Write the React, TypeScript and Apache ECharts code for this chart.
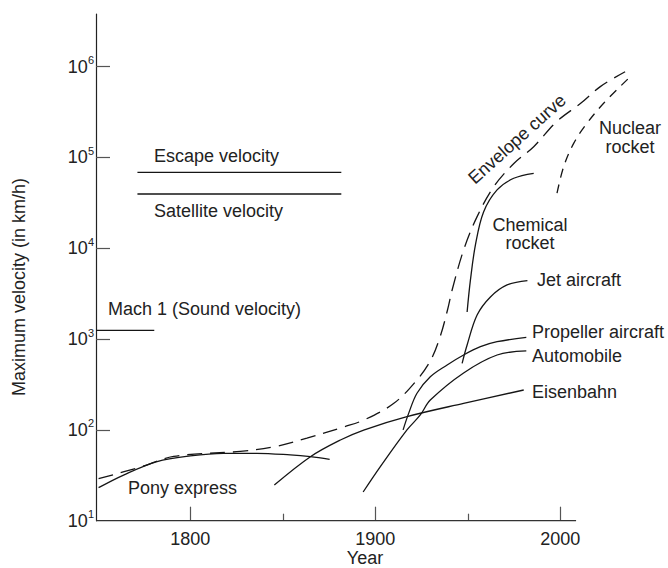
import React, { useEffect, useRef } from 'react';
import * as echarts from 'echarts';

const FONT = '"Liberation Sans", Arial, Helvetica, sans-serif';
const INK = '#151515';
const TEXT = '#222';

// Axis ticks
const xTickMajor = [1800, 1900, 2000];
const xTickMinor = [1850, 1950];
const yTickExponents = [1, 2, 3, 4, 5, 6];
// Drawn extent of the time axis line (years) at the 10 km/h baseline
const xAxisLineYears = [1749, 2008.5];
const xAxisLineKmh = [10, 10];

// Reference velocities (km/h)
const escapeYears = [1771.4, 1881.6];
const escapeKmh = [68700, 68700];
const satelliteYears = [1771.4, 1881.6];
const satelliteKmh = [39600, 39600];
const machYears = [1749, 1780.5];
const machKmh = [1250, 1250];

// Curves (year, km/h)
const envelopeYears = [1750.4, 1773, 1791, 1827, 1845, 1863, 1883, 1894, 1910, 1922.5, 1930, 1935, 1939, 1941.5, 1947.7, 1955, 1964, 1975, 1985.6, 1998, 2011, 2021.6, 2035];
const envelopeKmh = [29, 39, 51, 58, 65, 81, 108, 129, 196, 355, 590, 1060, 2090, 3475, 9570, 22300, 47600, 86300, 131500, 248000, 395000, 603000, 880000];

const ponyYears = [1750.4, 1763.9, 1782, 1800, 1817.8, 1836, 1854, 1864.9, 1875.3];
const ponyKmh = [23.1, 31.8, 44.7, 51.7, 55.2, 55.2, 53, 50.7, 47.4];

const railYears = [1845.4, 1864.9, 1881.1, 1893.7, 1917.1, 1947.7, 1980.2];
const railKmh = [24.7, 50.7, 77.4, 99.7, 140, 196, 275];

const autoYears = [1893.4, 1902.7, 1917.1, 1924.3, 1929.7, 1947.7, 1965.8, 1981.6];
const autoKmh = [20.7, 39.4, 100, 146, 213, 424, 668, 740];

const propYears = [1915, 1918, 1922.5, 1929.7, 1938.8, 1947.7, 1956.8, 1965.8, 1981.6];
const propKmh = [100, 152, 253, 385, 519, 668, 824, 935, 1047];

const jetYears = [1946.9, 1949.6, 1955, 1962.2, 1971.2, 1982.2];
const jetKmh = [541, 861, 1840, 2910, 3945, 4415];

const chemYears = [1949.6, 1951.4, 1954.1, 1958.5, 1965.8, 1974.8, 1985.6];
const chemKmh = [1990, 4480, 10900, 25100, 43900, 59000, 67000];

const nuclearYears = [1998.2, 2001.8, 2007.2, 2014.4, 2023.4, 2036.9];
const nuclearKmh = [40400, 79300, 143000, 238000, 395000, 745000];

const toPairs = (years: number[], vals: number[]) => years.map((y, i) => [y, Math.log10(vals[i])]);

const line = (name: string, years: number[], vals: number[], opts: any = {}) => ({
  type: 'line',
  name,
  data: toPairs(years, vals),
  symbol: 'none',
  showSymbol: false,
  clip: false,
  silent: true,
  smooth: opts.smooth ?? 0.35,
  lineStyle: { color: opts.color ?? INK, width: opts.width ?? 1.3, type: opts.dash ?? 'solid', cap: 'butt' },
  z: 3,
});

const txt = (text: string, x: number, y: number, align = 'left', extra: any = {}) => ({
  type: 'text',
  x,
  y,
  silent: true,
  ...extra,
  style: {
    text,
    fill: TEXT,
    font: `18px ${FONT}`,
    fontSize: 18,
    fontFamily: FONT,
    align,
    textAlign: align,
    verticalAlign: 'middle',
    textVerticalAlign: 'middle',
    lineHeight: 18.5,
  },
});

export default function App() {
  const ref = useRef<HTMLDivElement>(null);

  useEffect(() => {
    document.body.style.margin = '0';
    if (!ref.current) return;
    const chart = echarts.init(ref.current, null, { renderer: 'svg' });
    const option: any = {
      animation: false,
      backgroundColor: '#ffffff',
      grid: { left: 96, top: 14, right: 33.65, bottom: 47.3, containLabel: false },
      xAxis: [
        {
          type: 'value',
          min: 1749,
          max: 2040,
          position: 'bottom',
          axisLine: { show: false },
          axisTick: { show: true, inside: true, length: 14, customValues: xTickMajor, lineStyle: { color: '#555', width: 1.2 } },
          axisLabel: { show: true, customValues: xTickMajor, margin: 9, fontSize: 18, color: TEXT, fontFamily: FONT, formatter: (v: number) => String(v) },
          splitLine: { show: false },
        },
        {
          type: 'value',
          min: 1749,
          max: 2040,
          position: 'bottom',
          axisLine: { show: false },
          axisTick: { show: true, inside: true, length: 7, customValues: xTickMinor, lineStyle: { color: '#555', width: 1.2 } },
          axisLabel: { show: false },
          splitLine: { show: false },
        },
      ],
      yAxis: {
        type: 'value',
        min: 1,
        max: 6.58,
        axisLine: { show: true, onZero: false, lineStyle: { color: '#222', width: 1.2 } },
        axisTick: { show: true, inside: true, length: 14, customValues: [2, 3, 4, 5, 6], lineStyle: { color: '#555', width: 1.2 } },
        axisLabel: {
          show: true,
          customValues: yTickExponents,
          margin: 2,
          formatter: (v: number) => `{b|10}{s|${Math.round(v)}}`,
          rich: {
            b: { fontSize: 18, color: TEXT, fontFamily: FONT, lineHeight: 24 },
            s: { fontSize: 11, color: TEXT, fontFamily: FONT, lineHeight: 11, verticalAlign: 'top' },
          },
        },
        splitLine: { show: false },
      },
      series: [
        line('x axis', xAxisLineYears, xAxisLineKmh, { smooth: false, color: '#333', width: 1.2 }),
        line('Escape velocity', escapeYears, escapeKmh, { smooth: false }),
        line('Satellite velocity', satelliteYears, satelliteKmh, { smooth: false }),
        line('Mach 1', machYears, machKmh, { smooth: false }),
        line('Envelope curve', envelopeYears, envelopeKmh, { dash: [15, 8] }),
        line('Pony express', ponyYears, ponyKmh),
        line('Eisenbahn', railYears, railKmh),
        line('Automobile', autoYears, autoKmh),
        line('Propeller aircraft', propYears, propKmh),
        line('Jet aircraft', jetYears, jetKmh),
        line('Chemical rocket', chemYears, chemKmh),
        line('Nuclear rocket', nuclearYears, nuclearKmh, { dash: [9, 7] }),
      ],
      graphic: [
        txt('Escape velocity', 154, 156),
        txt('Satellite velocity', 154, 211),
        txt('Mach 1 (Sound velocity)', 108, 309),
        txt('Pony express', 128, 488),
        txt('Eisenbahn', 532, 392),
        txt('Automobile', 532, 356),
        txt('Propeller aircraft', 532, 332),
        txt('Jet aircraft', 537, 280),
        txt('Chemical\nrocket', 530, 234, 'center'),
        txt('Nuclear\nrocket', 630, 137.5, 'center'),
        txt('Envelope curve', 517, 139, 'center', { rotation: (42 * Math.PI) / 180 }),
        txt('Maximum velocity (in km/h)', 19, 287, 'center', { rotation: Math.PI / 2 }),
        txt('Year', 365, 558, 'center'),
      ],
    };
    chart.setOption(option);
    return () => chart.dispose();
  }, []);

  return <div ref={ref} style={{ width: 668, height: 568 }} />;
}
